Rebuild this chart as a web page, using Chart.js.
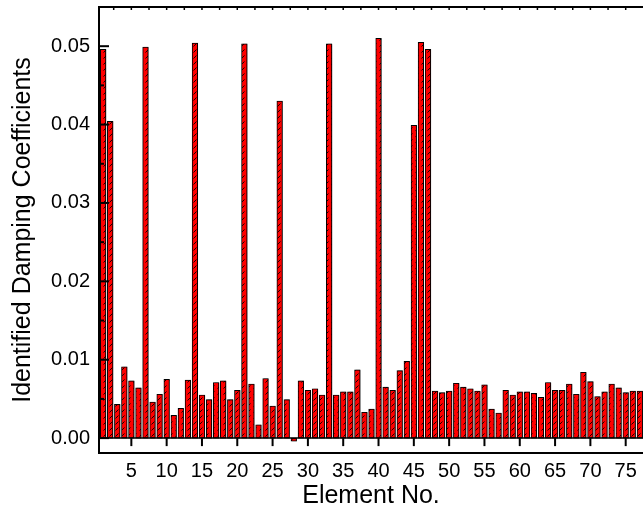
<!DOCTYPE html>
<html>
<head>
<meta charset="utf-8">
<script src="https://cdn.jsdelivr.net/npm/chart.js@4.4.1/dist/chart.umd.min.js"></script>
<style>
  html, body { margin: 0; padding: 0; background: #fff; overflow: hidden; }
  #wrap { width: 643px; height: 520px; }
</style>
</head>
<body>
<div id="wrap"><canvas id="dampChart" width="643" height="520"></canvas></div>
<script>
const elementNo = [
   1,  2,  3,  4,  5,  6,  7,  8,  9, 10, 11, 12, 13, 14, 15, 16, 17, 18, 19, 20,
  21, 22, 23, 24, 25, 26, 27, 28, 29, 30, 31, 32, 33, 34, 35, 36, 37, 38, 39, 40,
  41, 42, 43, 44, 45, 46, 47, 48, 49, 50, 51, 52, 53, 54, 55, 56, 57, 58, 59, 60,
  61, 62, 63, 64, 65, 66, 67, 68, 69, 70, 71, 72, 73, 74, 75, 76, 77
];
const damping = [
  0.0496, 0.0404, 0.0043, 0.0091, 0.0073, 0.0064, 0.0499, 0.0046, 0.0056, 0.0075,
  0.0029, 0.0038, 0.0074, 0.0504, 0.0055, 0.0049, 0.0071, 0.0073, 0.0049, 0.0061,
  0.0503, 0.0069, 0.0017, 0.0076, 0.0041, 0.0430, 0.0049, -0.0004, 0.0073, 0.0061,
  0.0063, 0.0055, 0.0503, 0.0055, 0.0059, 0.0059, 0.0087, 0.0033, 0.0037, 0.0510,
  0.0065, 0.0061, 0.0086, 0.0098, 0.0399, 0.0505, 0.0496, 0.0060, 0.0058, 0.0060,
  0.0070, 0.0065, 0.0063, 0.0060, 0.0068, 0.0037, 0.0032, 0.0061, 0.0055, 0.0059,
  0.0059, 0.0057, 0.0052, 0.0071, 0.0061, 0.0061, 0.0069, 0.0056, 0.0084, 0.0072,
  0.0053, 0.0059, 0.0069, 0.0064, 0.0058, 0.0060, 0.0060
];
const xTicks = [5, 10, 15, 20, 25, 30, 35, 40, 45, 50, 55, 60, 65, 70, 75];
const yTicks = [0.00, 0.01, 0.02, 0.03, 0.04, 0.05];

const FONT = 'Liberation Sans, Arial, sans-serif';
const canvas = document.getElementById('dampChart');
const ctx = canvas.getContext('2d');

// red fill with short black diagonal hatching
function hatch() {
  const c = document.createElement('canvas');
  c.width = 6; c.height = 6;
  const g = c.getContext('2d');
  g.fillStyle = '#ff0000';
  g.fillRect(0, 0, 6, 6);
  g.strokeStyle = '#000';
  g.lineWidth = 0.9;
  g.beginPath();
  g.moveTo(1.5, 4.5);
  g.lineTo(4.5, 1.5);
  g.stroke();
  return ctx.createPattern(c, 'repeat');
}

// grey drop shadow behind the bars
const barShadow = {
  id: 'barShadow',
  beforeDatasetDraw(chart) {
    const c = chart.ctx;
    c.save();
    c.shadowColor = 'rgba(0,0,0,0.4)';
    c.shadowOffsetX = 1.5;
    c.shadowOffsetY = 0;
    c.shadowBlur = 0;
  },
  afterDatasetDraw(chart) {
    chart.ctx.restore();
  }
};

// box, zero line and inward ticks
const axisFrame = {
  id: 'axisFrame',
  afterDatasetsDraw(chart) {
    const {ctx: c, chartArea: a, scales: {x, y}} = chart;
    const seg = (x1, y1, x2, y2) => { c.beginPath(); c.moveTo(x1, y1); c.lineTo(x2, y2); c.stroke(); };
    const y0 = y.getPixelForValue(0);
    c.save();
    c.strokeStyle = '#000';
    c.lineWidth = 1.5;
    seg(a.left, y0, a.right, y0);

    c.lineWidth = 2;
    c.beginPath();
    c.moveTo(a.right, a.top);
    c.lineTo(a.left, a.top);
    c.lineTo(a.left, a.bottom);
    c.lineTo(a.right, a.bottom);
    c.stroke();

    yTicks.forEach(v => {
      const p = y.getPixelForValue(v);
      seg(a.left, p, a.left + 10, p);
      const m = y.getPixelForValue(v + 0.005);
      if (m > a.top) seg(a.left, m, a.left + 5, m);
    });

    xTicks.forEach(v => {
      const p = x.getPixelForValue(v);
      seg(p, y0, p, y0 + 8);
    });

    c.lineWidth = 1.5;
    for (let v = 2.5; v < x.max; v += 2.5) {
      const p = x.getPixelForValue(v);
      seg(p, a.top, p, a.top + 3);
    }
    c.restore();
  }
};

new Chart(ctx, {
  type: 'bar',
  data: {
    datasets: [{
      data: elementNo.map((n, i) => ({x: n, y: damping[i]})),
      backgroundColor: hatch(),
      borderColor: '#000',
      borderWidth: 1,
      borderSkipped: false,
      barThickness: 5.6
    }]
  },
  options: {
    responsive: false,
    animation: false,
    devicePixelRatio: 1,
    layout: { padding: { top: 7, right: 0, bottom: 0, left: 0 } },
    plugins: {
      legend: { display: false },
      tooltip: { enabled: false }
    },
    scales: {
      x: {
        type: 'linear',
        min: 0.42,
        max: 77.45,
        offset: false,
        grid: { display: false, drawTicks: false },
        border: { display: false },
        afterBuildTicks: s => { s.ticks = xTicks.map(v => ({value: v})); },
        afterFit: s => { s.height = 67; s.paddingLeft = 0; s.paddingRight = 0; },
        ticks: {
          color: '#000',
          autoSkip: false,
          maxRotation: 0,
          padding: 6,
          font: { family: FONT, size: 20 }
        },
        title: {
          display: true,
          text: 'Element No.',
          color: '#000',
          padding: { top: 0, bottom: 9 },
          font: { family: FONT, size: 25 }
        }
      },
      y: {
        min: -0.0019,
        max: 0.055,
        grid: { display: false, drawTicks: false },
        border: { display: false },
        afterBuildTicks: s => { s.ticks = yTicks.map(v => ({value: v})); },
        afterFit: s => { s.width = 99; s.paddingTop = 0; s.paddingBottom = 0; },
        ticks: {
          color: '#000',
          padding: 9,
          callback: v => v.toFixed(2),
          font: { family: FONT, size: 20 }
        },
        title: {
          display: true,
          text: 'Identified Damping Coefficients',
          color: '#000',
          padding: { top: 8, bottom: 0 },
          font: { family: FONT, size: 25 }
        }
      }
    }
  },
  plugins: [barShadow, axisFrame]
});
</script>
</body>
</html>
